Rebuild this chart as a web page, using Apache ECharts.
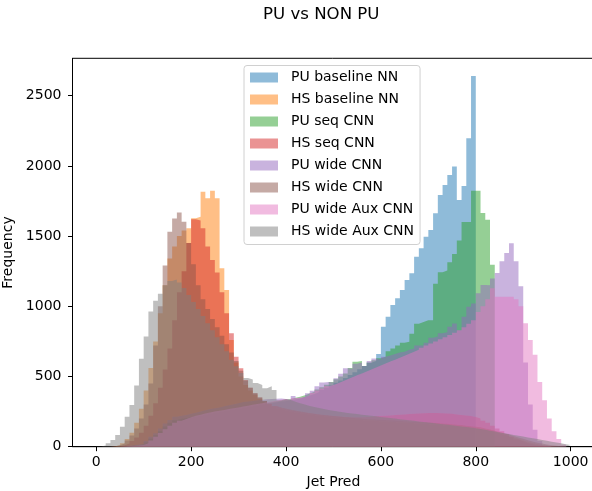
<!DOCTYPE html>
<html>
<head>
<meta charset="utf-8">
<script src="https://cdn.jsdelivr.net/npm/echarts@6/dist/echarts.min.js"></script>
<style>
  html, body { margin: 0; padding: 0; background: #fff; }
  #chart { width: 592px; height: 491px; }
</style>
</head>
<body>
<div id="chart"></div>
<script>
// histogram bins: 100 bins of width 10 from 0 to 1000
const binStart = 0
const binWidth = 10

const names = ['PU baseline NN', 'HS baseline NN', 'PU seq CNN', 'HS seq CNN',
  'PU wide CNN', 'HS wide CNN', 'PU wide Aux CNN', 'HS wide Aux CNN']
const colors = ['rgba(31,119,180,0.5)', 'rgba(255,127,14,0.5)', 'rgba(44,160,44,0.5)', 'rgba(214,39,40,0.5)',
  'rgba(148,103,189,0.5)', 'rgba(140,86,75,0.5)', 'rgba(227,119,194,0.5)', 'rgba(127,127,127,0.5)']

const xTicks = [0, 200, 400, 600, 800, 1000]
const yTicks = [0, 500, 1000, 1500, 2000, 2500]

const puBaseline = [
  0, 0, 0, 0, 1, 2, 4, 7, 11, 16,
  30, 55, 80, 108, 140, 165, 185, 195, 200, 208,
  215, 222, 230, 236, 242, 248, 254, 260, 266, 272,
  278, 284, 290, 296, 300, 305, 310, 316, 322, 326,
  330, 336, 344, 352, 364, 376, 390, 405, 420, 438,
  455, 472, 490, 510, 530, 552, 575, 598, 610, 660,
  855, 926, 1009, 1057, 1116, 1187, 1235, 1353, 1413, 1496,
  1543, 1662, 1793, 1864, 1935, 1995, 1757, 1857, 2196, 2640,
  0, 0, 0, 0, 0, 0, 0, 0, 0, 0,
  0, 0, 0, 0, 0, 0, 0, 0, 0, 0
]
const hsBaseline = [
  0, 0, 0, 3, 10, 25, 55, 100, 170, 270,
  400, 560, 750, 950, 1150, 1340, 1425, 1500, 1540, 1555,
  1627, 1638, 1816, 1769, 1823, 1769, 1270, 1116, 760, 600,
  500, 440, 400, 370, 340, 320, 300, 285, 270, 260,
  250, 245, 240, 235, 230, 226, 222, 218, 214, 210,
  206, 202, 198, 195, 192, 190, 188, 186, 184, 182,
  180, 178, 176, 174, 172, 170, 168, 166, 164, 162,
  160, 158, 155, 152, 149, 146, 143, 140, 136, 132,
  128, 120, 112, 104, 95, 86, 76, 66, 56, 46,
  36, 27, 19, 12, 7, 4, 2, 1, 0, 0
]
const puSeq = [
  0, 0, 0, 0, 1, 2, 4, 7, 11, 16,
  32, 58, 84, 112, 145, 170, 190, 200, 205, 212,
  220, 228, 235, 242, 248, 254, 260, 266, 272, 278,
  284, 290, 296, 300, 306, 310, 316, 322, 328, 334,
  340, 348, 356, 366, 378, 392, 408, 424, 442, 460,
  480, 500, 522, 560, 605, 610, 574, 600, 615, 630,
  640, 680, 700, 720, 740, 748, 805, 876, 888, 900,
  900, 1160, 1243, 1255, 1314, 1373, 1468, 1600, 1600, 1823,
  1823, 1664, 1617, 1296, 0, 0, 0, 0, 0, 0,
  0, 0, 0, 0, 0, 0, 0, 0, 0, 0
]
const hsSeq = [
  0, 0, 0, 1, 4, 10, 22, 40, 65, 100,
  150, 220, 310, 420, 550, 700, 900, 1100, 1250, 1450,
  1620, 1610, 1555, 1425, 1330, 1240, 1100, 950, 808, 641,
  558, 475, 420, 380, 350, 325, 305, 290, 278, 268,
  260, 254, 248, 243, 238, 234, 230, 226, 222, 219,
  216, 214, 212, 210, 210, 210, 212, 214, 216, 218,
  220, 222, 225, 228, 230, 232, 234, 236, 238, 240,
  240, 240, 238, 236, 234, 230, 226, 222, 218, 212,
  200, 185, 170, 150, 130, 110, 90, 70, 52, 38,
  26, 17, 10, 6, 3, 1, 0, 0, 0, 0
]
const puWide = [
  0, 0, 0, 0, 1, 3, 6, 10, 15, 20,
  40, 70, 95, 130, 166, 190, 213, 220, 226, 235,
  242, 250, 260, 268, 273, 280, 288, 295, 302, 310,
  318, 322, 326, 330, 334, 338, 340, 342, 344, 340,
  333, 361, 345, 356, 380, 399, 430, 458, 460, 458,
  487, 520, 558, 555, 590, 600, 574, 610, 629, 620,
  640, 650, 660, 670, 677, 690, 700, 720, 720, 740,
  775, 784, 808, 815, 855, 878, 830, 926, 997, 1020,
  1092, 1152, 1150, 1197, 1237, 1320, 1380, 1449, 1320, 1142,
  600, 300, 120, 40, 10, 0, 0, 0, 0, 0
]
const hsWide = [
  0, 0, 1, 4, 10, 22, 45, 80, 130, 200,
  300, 450, 720, 1000, 1290, 1531, 1626, 1667, 1602, 1450,
  1300, 1150, 1050, 980, 910, 850, 790, 730, 670, 610,
  540, 470, 420, 380, 350, 325, 305, 290, 280, 272,
  265, 258, 252, 246, 240, 235, 230, 226, 222, 218,
  215, 212, 209, 206, 203, 200, 198, 196, 194, 192,
  190, 188, 186, 184, 182, 180, 178, 176, 174, 172,
  170, 168, 166, 163, 160, 157, 154, 150, 146, 142,
  138, 130, 122, 114, 105, 96, 86, 76, 66, 56,
  46, 37, 29, 22, 16, 11, 7, 4, 2, 0
]
const puWideAux = [
  0, 0, 0, 0, 0, 1, 3, 5, 8, 12,
  25, 45, 70, 98, 125, 150, 170, 185, 198, 210,
  220, 228, 236, 243, 250, 256, 262, 268, 274, 280,
  286, 292, 298, 304, 310, 316, 322, 328, 334, 340,
  330, 345, 350, 352, 366, 383, 400, 415, 430, 440,
  452, 466, 480, 494, 508, 522, 536, 550, 564, 578,
  592, 606, 620, 634, 648, 662, 676, 690, 705, 720,
  735, 750, 765, 780, 795, 812, 830, 850, 875, 900,
  960, 1000, 1050, 1128, 1068, 1068, 1068, 1068, 1050, 1000,
  880, 760, 655, 460, 330, 200, 110, 55, 15, 0
]
const hsWideAux = [
  2, 8, 24, 47, 83, 142, 213, 297, 435, 627,
  784, 962, 1040, 1090, 1150, 1180, 1190, 1170, 1130, 1080,
  1030, 980, 930, 880, 830, 780, 730, 680, 620, 573,
  525, 490, 478, 454, 440, 417, 430, 403, 330, 340,
  333, 320, 310, 300, 290, 282, 275, 268, 262, 256,
  250, 245, 240, 236, 232, 228, 224, 220, 216, 212,
  208, 204, 200, 196, 192, 188, 184, 180, 176, 172,
  168, 164, 160, 156, 152, 148, 144, 140, 136, 131,
  126, 120, 114, 108, 102, 96, 90, 84, 78, 72,
  66, 60, 54, 48, 42, 36, 30, 24, 18, 12
]

const counts = [puBaseline, hsBaseline, puSeq, hsSeq, puWide, hsWide, puWideAux, hsWideAux]

const font = 'DejaVu Sans'
let myChart = echarts.init(document.getElementById('chart'), null, {renderer: 'canvas'})

// step points at each bin's left edge, plus the right edge of the last bin
function histData(arr) {
  let pts = arr.map((c, i) => [binStart + i * binWidth, c])
  pts.push([binStart + arr.length * binWidth, arr[arr.length - 1]])
  return pts
}

let option = {
  animation: false,
  title: {
    text: 'PU vs NON PU',
    left: 263,
    top: 6,
    padding: 0,
    textStyle: {fontFamily: font, fontSize: 16.6, fontWeight: 'normal', color: '#000'}
  },
  legend: {
    data: names,
    orient: 'vertical',
    left: 244,
    top: 65.5,
    icon: 'rect',
    itemWidth: 28,
    itemHeight: 10,
    itemGap: 6,
    padding: [4, 6, 5, 6],
    borderColor: '#d0d0d0',
    borderWidth: 1,
    borderRadius: 3,
    backgroundColor: 'rgba(255,255,255,0.8)',
    textStyle: {fontFamily: font, fontSize: 14, color: '#000', lineHeight: 16, padding: [0, 0, 0, 8]}
  },
  grid: {
    left: 72.5,
    right: -2.4,
    top: 58.3,
    bottom: 44.3,
    outerBoundsMode: 'none',
    show: true,
    borderColor: '#000',
    borderWidth: 1
  },
  xAxis: {
    type: 'value',
    min: -50,
    max: 1050,
    name: 'Jet Pred',
    nameLocation: 'middle',
    nameGap: 29,
    nameTextStyle: {fontFamily: font, fontSize: 14, color: '#000'},
    splitLine: {show: false},
    axisLine: {show: true, onZero: false, lineStyle: {color: '#000', width: 1}},
    axisTick: {show: true, customValues: xTicks, length: 4.5, lineStyle: {color: '#000'}},
    axisLabel: {customValues: xTicks, margin: 9, fontFamily: font, fontSize: 14, color: '#000',
      formatter: v => String(v)}
  },
  yAxis: {
    type: 'value',
    min: 0,
    max: 2766,
    name: 'Frequency',
    nameLocation: 'middle',
    nameGap: 49,
    nameTextStyle: {fontFamily: font, fontSize: 14, color: '#000'},
    splitLine: {show: false},
    axisLine: {show: true, onZero: false, lineStyle: {color: '#000', width: 1}},
    axisTick: {show: true, customValues: yTicks, length: 4.5, lineStyle: {color: '#000'}},
    axisLabel: {customValues: yTicks, margin: 11, fontFamily: font, fontSize: 14, color: '#000',
      formatter: v => String(v)}
  },
  series: counts.map((arr, k) => ({
    name: names[k],
    type: 'line',
    step: 'end',
    showSymbol: false,
    symbol: 'none',
    clip: true,
    itemStyle: {color: colors[k]},
    lineStyle: {width: 0, opacity: 0},
    areaStyle: {color: colors[k], opacity: 1, origin: 'start'},
    emphasis: {disabled: true},
    data: histData(arr)
  }))
}
myChart.setOption(option)
</script>
</body>
</html>
